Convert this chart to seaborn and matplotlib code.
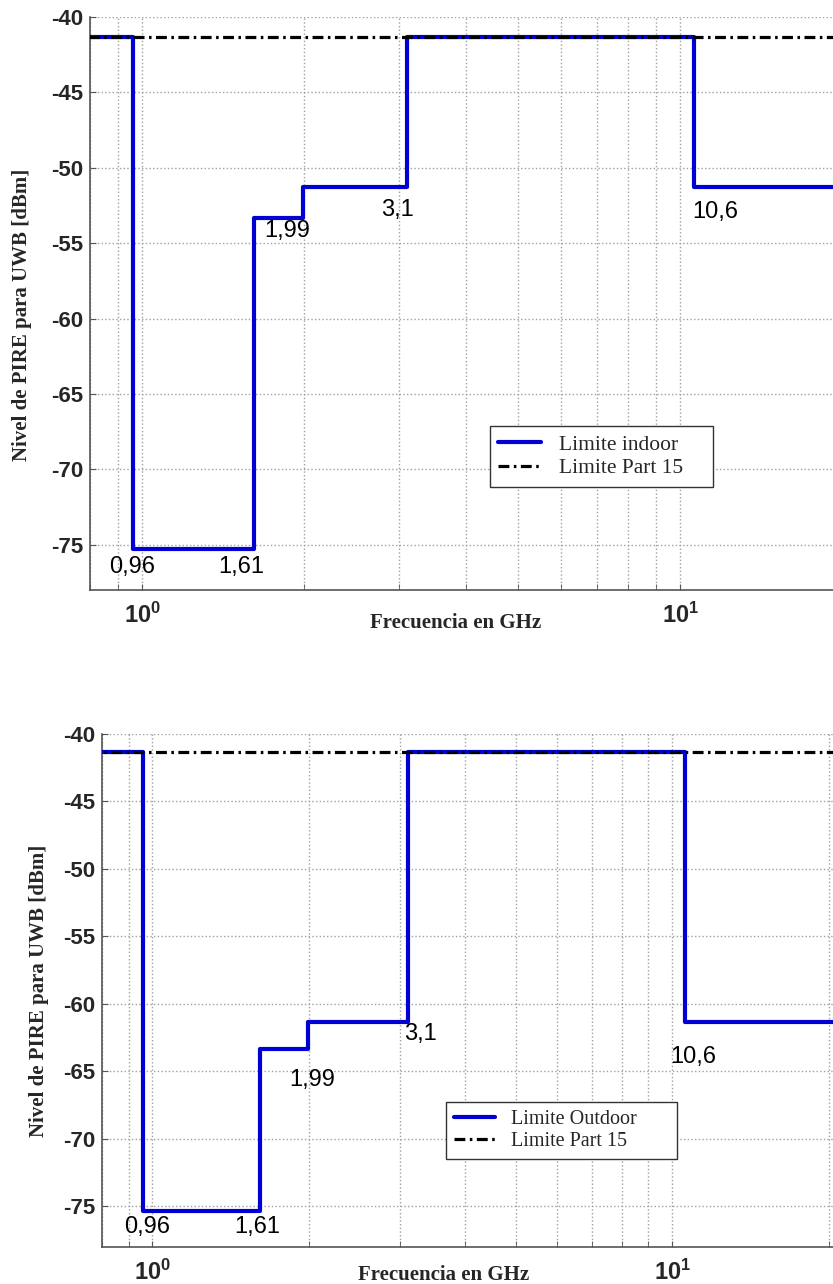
import numpy as np
import pandas as pd
import seaborn as sns
import matplotlib.pyplot as plt
from matplotlib.ticker import LogLocator, FuncFormatter, NullFormatter


# data (FCC UWB masks)
freq_edges = [0.96, 1.61, 1.99, 3.1, 10.6]
indoor_levels = [-41.3, -75.3, -53.3, -51.3, -41.3, -51.3]
outdoor_levels = [-41.3, -75.3, -63.3, -61.3, -41.3, -61.3]
part15_level = -41.3
edge_labels = ["0,96", "1,61", "1,99", "3,1", "10,6"]
y_ticks = [-75, -70, -65, -60, -55, -50, -45, -40]

# where the edge labels sit (data coords), per panel
top_label_pos = [(0.958, -76.5), (1.53, -76.5), (1.856, -54.2), (2.98, -52.8), (11.6, -52.9)]
bot_label_pos = [(0.978, -76.5), (1.59, -76.5), (2.03, -65.6), (3.28, -62.2), (10.97, -63.9)]

BLUE = "#0000d2"
GRID = "#a0a0a0"

sns.set_style("ticks")
plt.rcParams["axes.unicode_minus"] = False
plt.rcParams["mathtext.fontset"] = "custom"
plt.rcParams["mathtext.bf"] = "Liberation Sans:bold"
plt.rcParams["font.family"] = ["Liberation Sans", "DejaVu Sans"]


def step_frame(levels):
    x = [0.5] + freq_edges + [60.0]
    y = list(levels) + [levels[-1]]
    return pd.DataFrame({"f": x, "nivel": y})


def draw_panel(ax, levels, label, xmax, label_pos, leg_box, leg_size,
               ylab_xy, xlab_xy):
    df = step_frame(levels)
    sns.lineplot(data=df, x="f", y="nivel", ax=ax, color=BLUE, lw=3.0,
                 drawstyle="steps-post", label=label, zorder=3)
    p15 = pd.DataFrame({"f": [0.5, 60.0], "nivel": [part15_level, part15_level]})
    sns.lineplot(data=p15, x="f", y="nivel", ax=ax, color="black", lw=2.3,
                 linestyle=(0, (3.4, 1.4, 0.8, 1.4)), label="Limite Part 15",
                 zorder=4)

    ax.set_xscale("log")
    ax.set_xlim(0.8, xmax)
    ax.set_ylim(-78, -40)
    ax.set_yticks(y_ticks)
    ax.xaxis.set_major_locator(LogLocator(base=10))
    ax.xaxis.set_minor_locator(LogLocator(base=10, subs=np.arange(2, 10)))
    ax.xaxis.set_major_formatter(FuncFormatter(
        lambda v, p: r"$\mathbf{10^{%d}}$" % round(np.log10(v))))
    ax.xaxis.set_minor_formatter(NullFormatter())

    ax.grid(True, which="major", axis="both", linestyle=":", color=GRID, lw=1.0)
    ax.grid(True, which="minor", axis="x", linestyle=":", color=GRID, lw=1.0)

    ax.tick_params(axis="both", which="both", direction="in", length=4,
                   color="#555555")
    ax.tick_params(axis="y", labelsize=16, pad=5)
    ax.tick_params(axis="x", labelsize=17, pad=9)
    for t in ax.get_yticklabels():
        t.set_fontweight("bold")

    sns.despine(ax=ax)
    for s in ("left", "bottom"):
        ax.spines[s].set_color("#555555")
        ax.spines[s].set_linewidth(1.2)

    for txt, (x, y) in zip(edge_labels, label_pos):
        ax.text(x, y, txt, ha="center", va="center", fontsize=17,
                color="black", zorder=5)

    ax.set_ylabel("Nivel de PIRE para UWB [dBm]", family="Liberation Serif",
                  fontweight="bold", fontsize=15)
    ax.yaxis.set_label_coords(*ylab_xy)
    ax.set_xlabel("Frecuencia en GHz", family="Liberation Serif",
                  fontweight="bold", fontsize=15)
    ax.xaxis.set_label_coords(*xlab_xy)

    ax.legend(loc="lower left", bbox_to_anchor=leg_box, mode="expand",
              frameon=True, fancybox=False, framealpha=1, edgecolor="#333333",
              prop={"family": "Liberation Serif", "size": leg_size},
              handlelength=2.0, handletextpad=0.8, borderpad=0.4,
              labelspacing=0.15, borderaxespad=0)


fig = plt.figure(figsize=(8.33, 12.84), dpi=100)
ax_top = fig.add_axes([0.10804, 0.54050, 0.89196, 0.44626])
ax_bot = fig.add_axes([0.12245, 0.02882, 0.87755, 0.39953])

draw_panel(ax_top, indoor_levels, "Limite indoor", 19.2, top_label_pos,
           (0.538, 0.18, 0.300, 0.1), 15.5, (-0.078, 0.48), (0.4926, -0.040))
draw_panel(ax_bot, outdoor_levels, "Limite Outdoor", 20.4, bot_label_pos,
           (0.471, 0.1715, 0.316, 0.1), 14.5, (-0.0725, 0.50), (0.468, -0.036))

fig.savefig("out.png", dpi=100)
